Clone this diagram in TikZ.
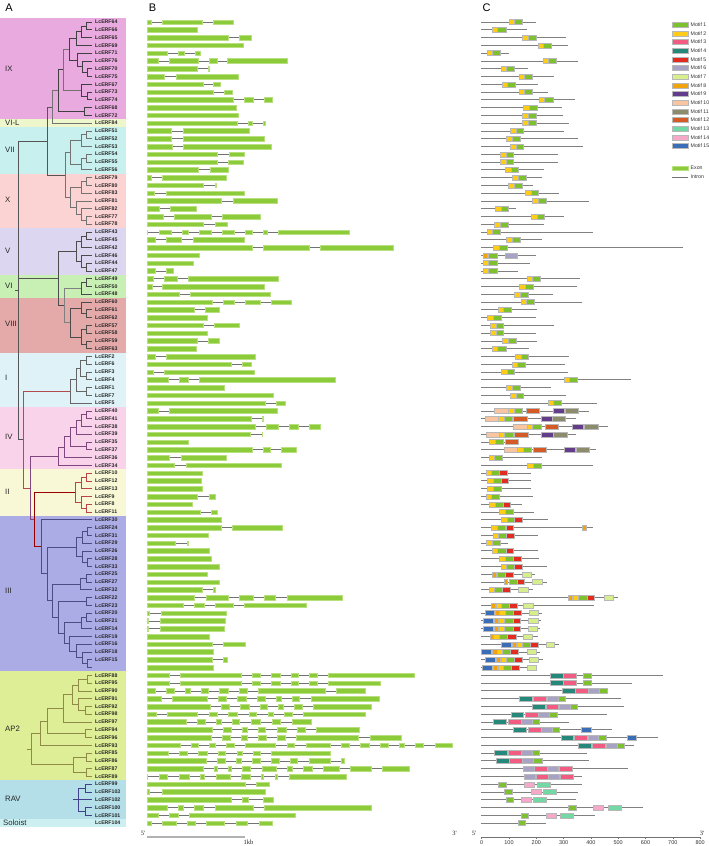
\documentclass[tikz,border=0pt]{standalone}
\usepackage{fontspec}
\setmainfont{Liberation Sans}
\newfontfamily\serf{Liberation Serif}
\definecolor{bIX}{HTML}{E9ABDF}\definecolor{bVIL}{HTML}{EEF6CC}\definecolor{bVII}{HTML}{C8F0EE}
\definecolor{bX}{HTML}{FCD3D3}\definecolor{bV}{HTML}{DCD6F0}\definecolor{bVI}{HTML}{C8EFB4}
\definecolor{bVIII}{HTML}{E4AAAA}\definecolor{bI}{HTML}{DEF2F8}\definecolor{bIV}{HTML}{F9D3EA}
\definecolor{bII}{HTML}{F8F8D6}\definecolor{bIII}{HTML}{ABABE6}\definecolor{bAP}{HTML}{DDEE96}
\definecolor{bRAV}{HTML}{B4DFE8}\definecolor{bSol}{HTML}{CCF0F2}
\definecolor{mA}{HTML}{7DC22E}\definecolor{mB}{HTML}{FFCC1A}\definecolor{mC}{HTML}{F25C82}
\definecolor{mD}{HTML}{24887A}\definecolor{mE}{HTML}{E32B22}\definecolor{mF}{HTML}{A8A2C4}
\definecolor{mG}{HTML}{D6EE8C}\definecolor{mH}{HTML}{F0A30A}\definecolor{mI}{HTML}{633C8C}
\definecolor{mJ}{HTML}{F9C4A0}\definecolor{mK}{HTML}{8C8C6C}\definecolor{mL}{HTML}{D65A24}
\definecolor{mM}{HTML}{72D8A4}\definecolor{mN}{HTML}{F5A8C8}\definecolor{mO}{HTML}{3A6FB8}
\definecolor{exf}{HTML}{8CCB3A}\definecolor{exb}{HTML}{B8E07E}\definecolor{mbord}{HTML}{B8B8B8}
\definecolor{treeg}{HTML}{555555}
\newcommand\br[6][treeg]{\draw[tl,draw=#1] (#2,{ry(#3)}) -| (#4,{ry(#5)}) -- (#6,{ry(#5)});}
\newcommand\band[3]{\fill[#1] (0,{ry(#2-0.5)}) rectangle (126,{ry(#3+0.5)});}
\newcommand\gB[3]{\draw[intr] ({140+20/3},{ry(#1)}) -- ({140+#2/3},{ry(#1)});
  \foreach \pa/\pb in {#3}{\filldraw[fill=exf,draw=exb,line width=0.3pt] ({140+\pa/3},{ry(#1)-2.3}) rectangle ({140+\pb/3},{ry(#1)+2.3});}}
\newcommand\gC[3]{\draw[prot] (481,{ry(#1)}) -- ({470+#2/3},{ry(#1)});
  \foreach \pa/\pb/\pc in {#3}{\filldraw[fill=\pc,draw=mbord,line width=0.3pt] ({470+\pa/3},{ry(#1)-2.5}) rectangle ({470+\pb/3},{ry(#1)+2.5});}}
\begin{document}
\begin{tikzpicture}[x=1pt,y=-1pt,
  declare function={ry(\i)=22+7.777*\i;},
  tl/.style={line width=0.6pt},
  intr/.style={draw=black!55,line width=0.6pt},
  prot/.style={draw=black!50,line width=0.7pt},
  gl/.style={anchor=west,inner sep=0pt,font=\fontsize{5.2}{6}\selectfont\bfseries,text=black!85},
  grl/.style={anchor=west,inner sep=0pt,font=\fontsize{7.8}{9}\selectfont,text=black!85},
  hd/.style={inner sep=0pt,font=\fontsize{11}{13}\selectfont},
  leg/.style={anchor=west,inner sep=0pt,font=\fontsize{5.2}{6}\selectfont,text=black!80},
  axl/.style={inner sep=0pt,font=\fontsize{5.5}{6}\selectfont,text=black!80},
  sl/.style={inner sep=0pt,font=\serf\fontsize{6.5}{7}\selectfont,text=black!85}]
\useasboundingbox (0,0) rectangle (709,846);
\fill[white] (0,0) rectangle (709,846);
% ---------- panel A bands
\band{bIX}{0}{12}\band{bVIL}{13}{13}\band{bVII}{14}{19}\band{bX}{20}{26}
\band{bV}{27}{32}\band{bVI}{33}{35}\band{bVIII}{36}{42}\band{bI}{43}{49}
\band{bIV}{50}{57}\band{bII}{58}{63}\band{bIII}{64}{83}\band{bAP}{84}{97}
\band{bRAV}{98}{102}\band{bSol}{103}{103}
\node[hd] (hA) at (9,8) {A};
\node[hd] (hB) at (152.5,7.5) {B};
\node[hd] (hC) at (486.5,7.5) {C};
\node[grl] (cIX) at (5,69) {IX};
\node[grl] (cVIL) at (5,{ry(13)}) {VI-L};
\node[grl] (cVII) at (5,150) {VII};
\node[grl] (cX) at (5,200) {X};
\node[grl] (cV) at (5,251) {V};
\node[grl] (cVI) at (5,286) {VI};
\node[grl] (cVIII) at (5,324) {VIII};
\node[grl] (cI) at (5,378) {I};
\node[grl] (cIV) at (5,437) {IV};
\node[grl] (cII) at (5,492) {II};
\node[grl] (cIII) at (5,591) {III};
\node[grl] (cAP) at (5,729) {AP2};
\node[grl] (cRAV) at (5,799) {RAV};
\node[grl] (cSol) at (3,{ry(103)}) {Soloist};
% gene labels
\foreach \n [count=\i from 0] in {64,66,65,69,71,76,70,75,67,73,74,68,72,84,51,52,53,54,55,56,79,80,83,81,82,77,78,43,45,42,46,44,47,49,50,48,60,61,62,57,58,59,63,2,6,3,4,1,7,5,40,41,38,39,35,37,36,34,10,12,13,9,8,11,30,24,31,29,26,28,33,25,27,32,22,23,20,21,14,19,16,18,15}
  {\node[gl] (g\n) at (95,{ry(\i)}) {LcERF\n};}
\foreach \n [count=\i from 84] in {88,95,90,91,92,98,97,94,96,93,85,86,87,89,99,103,102,100,101,104}
  {\node[gl] (g\n) at (95,{ry(\i)}) {LcERF\n};}
% ---------- tree
\def\cA{black!75}
\br[\cA]{92}{0}{86}{1}{92}\br[\cA]{86}{0.5}{81}{2}{92}\br[\cA]{81}{1.25}{76}{3}{92}
\br[\cA]{92}{6}{87}{7}{92}\br[\cA]{92}{5}{82}{6.5}{87}\br[\cA]{92}{4}{77}{5.75}{82}
\br[\cA]{76}{2.125}{69}{4.875}{77}\br[\cA]{92}{9}{87}{10}{92}\br[\cA]{92}{8}{81}{9.5}{87}
\br[black!55]{69}{3.5}{63}{8.75}{81}\br[\cA]{92}{11}{84}{12}{92}\br[\cA]{63}{6.125}{58}{11.5}{84}
\br[black!55]{58}{8.8125}{52}{13}{92}
\def\cB{black!55}
\br[\cB]{92}{14}{86}{15}{92}\br[\cB]{86}{14.5}{81}{16}{92}\br[\cB]{92}{17}{86}{18}{92}
\br[\cB]{86}{17.5}{81}{19}{92}\br[\cB]{81}{15.25}{70}{18.25}{81}
\br[\cB]{92}{20}{86}{21}{92}\br[\cB]{86}{20.5}{81}{22}{92}\br[\cB]{92}{25}{86}{26}{92}
\br[\cB]{92}{24}{81}{25.5}{86}\br[\cB]{92}{23}{76}{24.75}{81}\br[\cB]{81}{21.25}{70}{23.875}{76}
\br[\cB]{70}{16.75}{65}{22.5625}{70}\br[treeg]{52}{10.906}{47}{19.656}{65}
\def\cC{black!70}
\br[\cC]{92}{27}{86}{28}{92}\br[\cC]{86}{27.5}{81}{29}{92}\br[\cC]{92}{31}{86}{32}{92}
\br[\cC]{92}{30}{81}{31.5}{86}\br[\cC]{81}{28.25}{76}{30.75}{81}
\br[\cC]{92}{33}{86}{34}{92}\br[\cC]{86}{33.5}{81}{35}{92}
\br[\cC]{92}{37}{86}{38}{92}\br[\cC]{92}{36}{81}{37.5}{86}\br[\cC]{92}{39}{86}{40}{92}
\br[\cC]{92}{41}{86}{42}{92}\br[\cC]{86}{39.5}{81}{41.5}{86}\br[\cC]{81}{36.75}{70}{40.5}{81}
\br[black!50]{81}{34.25}{64}{38.625}{70}\br[\cC]{76}{29.5}{58}{36.4375}{64}
\def\cD{black!60}
\br[\cD]{92}{43}{86}{44}{92}\br[\cD]{92}{45}{86}{46}{92}\br[\cD]{86}{43.5}{80}{45.5}{86}
\br[\cD]{92}{47}{86}{48}{92}\br[\cD]{80}{44.5}{76}{47.5}{86}\br[\cD]{76}{46}{70}{49}{92}
\def\cE{violet!45!gray}
\br[\cE]{92}{50}{86}{51}{92}\br[\cE]{86}{50.5}{81}{52}{92}\br[\cE]{81}{51.25}{76}{53}{92}
\br[\cE]{92}{54}{86}{55}{92}\br[\cE]{76}{52.125}{70}{54.5}{86}\br[\cE]{70}{53.3125}{64}{56}{92}
\br[\cE]{64}{54.656}{58}{57}{92}
\def\cF{red!45!gray}
\br[\cF]{92}{58}{86}{59}{92}\br[\cF]{86}{58.5}{81}{60}{92}\br[\cF]{92}{62}{86}{63}{92}
\br[\cF]{92}{61}{81}{62.5}{86}\br[\cF]{81}{59.25}{75}{61.75}{81}
\def\cG{blue!30!black!70}
\br[\cG]{92}{65}{87}{66}{92}\br[\cG]{87}{65.5}{82}{67}{92}\br[\cG]{92}{69}{87}{70}{92}
\br[\cG]{92}{68}{82}{69.5}{87}\br[\cG]{82}{66.25}{76}{68.75}{82}
\br[\cG]{92}{71}{86}{72}{92}\br[\cG]{86}{71.5}{80}{73}{92}\br[\cG]{92}{74}{86}{75}{92}
\br[\cG]{92}{76}{86}{77}{92}\br[\cG]{86}{76.5}{81}{78}{92}\br[\cG]{92}{82}{87}{83}{92}
\br[\cG]{92}{81}{82}{82.5}{87}\br[\cG]{92}{80}{76}{81.75}{82}\br[\cG]{92}{79}{69}{80.875}{76}
\br[\cG]{81}{77.25}{64}{79.94}{69}\br[\cG]{86}{74.5}{58}{78.594}{64}\br[\cG]{80}{72.25}{52}{76.547}{58}
\br[\cG]{76}{67.5}{47}{74.398}{52}\br[\cG]{92}{64}{41}{70.949}{47}
\br[red!60!black]{75}{60.5}{34}{67.47}{41}
\br[\cE]{58}{55.828}{30}{63.99}{34}
\br[red!40!gray]{70}{47.5}{23}{59.91}{30}
\draw[tl,draw=treeg] (47,{ry(15.281)}) -| (18,{ry(53.7)}) -- (23,{ry(53.7)});
\draw[tl,draw=treeg] (58,{ry(32.969)}) -- (18,{ry(32.969)});
\draw[tl,draw=treeg] (15,{ry(34.49)}) -- (18,{ry(34.49)});
\def\cH{olive!50!gray}
\br[\cH]{92}{84}{87}{85}{92}\br[\cH]{87}{84.5}{78}{86}{92}\br[\cH]{92}{88}{85}{89}{92}
\br[\cH]{92}{87}{78}{88.5}{85}\br[\cH]{78}{85.25}{72}{87.75}{78}\br[\cH]{72}{86.5}{63}{90}{92}
\br[\cH]{92}{91}{85}{92}{92}\br[\cH]{63}{88.25}{47}{91.5}{85}\br[\cH]{47}{89.875}{40}{93}{92}
\br[\cH]{92}{94}{86}{95}{92}\br[\cH]{92}{96}{86}{97}{92}\br[\cH]{86}{94.5}{73}{96.5}{86}
\br[\cH]{40}{91.44}{31}{95.5}{73}
\draw[tl,draw=\cH] (27,{ry(93.47)}) -- (31,{ry(93.47)});
\def\cI{blue!40!black!75}
\br[\cI]{92}{98}{85}{99}{92}\br[\cI]{92}{101}{85}{102}{92}\br[\cI]{85}{98.5}{78}{101.5}{85}
\draw[tl,draw=\cI] (73,{ry(100)}) -- (92,{ry(100)});
% ---------- panel B
\gB{0}{279}{20/32,65/187,220/279}
\gB{1}{172}{20/172}
\gB{2}{333}{20/265,298/333}
\gB{3}{308}{20/308}
\gB{4}{180}{20/80,115/133,166/180}
\gB{5}{440}{20/53,88/175,207/230,262/440}
\gB{6}{208}{20/172,205/208}
\gB{7}{295}{20/73,107/295}
\gB{8}{240}{20/188,220/240}
\gB{9}{275}{20/219,252/275}
\gB{10}{397}{20/280,313/340,373/397}
\gB{11}{287}{20/287}
\gB{12}{293}{20/293}
\gB{13}{376}{20/291,325/335,369/376}
\gB{14}{328}{20/93,128/328}
\gB{15}{373}{20/93,128/373}
\gB{16}{393}{20/95,128/393}
\gB{17}{311}{20/232,267/311}
\gB{18}{309}{20/230,265/309}
\gB{19}{263}{20/175,210/263}
\gB{20}{257}{20/33,67/257}
\gB{21}{229}{20/190,226/229}
\gB{22}{312}{20/43,77/312}
\gB{23}{410}{20/243,278/410}
\gB{24}{167}{20/57,90/167}
\gB{25}{360}{20/68,102/212,246/360}
\gB{26}{262}{20/190,225/262}
\gB{27}{627}{20/22,58/92,125/143,177/213,247/282,316/335,370/380,415/627}
\gB{28}{312}{20/45,78/123,158/312}
\gB{29}{758}{20/335,369/507,540/758}
\gB{30}{178}{20/178}
\gB{31}{158}{20/158}
\gB{32}{100}{20/45,78/100}
\gB{33}{413}{20/38,72/110,143/413}
\gB{34}{372}{20/35,67/372}
\gB{35}{389}{20/117,150/389}
\gB{36}{452}{20/215,249/283,316/359,392/452}
\gB{37}{236}{20/161,195/236}
\gB{38}{201}{20/201}
\gB{39}{296}{20/189,223/296}
\gB{40}{200}{20/200}
\gB{41}{236}{20/170,204/236}
\gB{42}{168}{20/168}
\gB{43}{344}{20/45,78/344}
\gB{44}{333}{20/273,306/333}
\gB{45}{342}{20/40,73/342}
\gB{46}{584}{20/83,117/143,176/584}
\gB{47}{252}{20/252}
\gB{48}{399}{20/399}
\gB{49}{436}{20/375,408/436}
\gB{50}{411}{20/53,88/411}
\gB{51}{369}{20/332,367/369}
\gB{52}{540}{20/344,377/413,447/473,507/540}
\gB{53}{367}{20/329,365/367}
\gB{54}{145}{20/145}
\gB{55}{467}{20/335,369/391,424/467}
\gB{56}{257}{20/87,122/257}
\gB{57}{423}{20/103,137/423}
\gB{58}{186}{20/186}
\gB{59}{183}{20/183}
\gB{60}{185}{20/185}
\gB{61}{224}{20/172,206/224}
\gB{62}{155}{20/155}
\gB{63}{230}{20/180,213/230}
\gB{64}{242}{20/242}
\gB{65}{426}{20/243,276/426}
\gB{66}{205}{20/205}
\gB{67}{143}{20/104,141/143}
\gB{68}{206}{20/206}
\gB{69}{212}{20/212}
\gB{70}{236}{20/236}
\gB{71}{200}{20/200}
\gB{72}{238}{20/238}
\gB{73}{224}{20/185,218/224}
\gB{74}{606}{20/162,197/263,297/338,372/406,440/606}
\gB{75}{497}{20/130,163/192,226/279,312/497}
\gB{76}{257}{20/28,63/257}
\gB{77}{255}{20/25,60/255}
\gB{78}{253}{20/25,60/253}
\gB{79}{207}{20/207}
\gB{80}{316}{20/215,249/316}
\gB{81}{218}{20/218}
\gB{82}{262}{20/215,249/262}
\gB{83}{218}{20/218}
\gB{84}{822}{20/87,120/302,336/359,393/419,453/473,507/531,564/822}
\gB{85}{719}{20/87,120/302,336/359,393/419,453/473,507/531,564/719}
\gB{86}{674}{20/45,78/101,134/150,183/204,237/263,297/321,354/555,589/674}
\gB{87}{717}{20/62,95/201,234/258,292/319,352/374,408/422,456/478,512/717}
\gB{88}{693}{20/209,242/267,300/326,360/381,414/429,462/486,519/693}
\gB{89}{674}{20/48,82/172,206/231,265/291,326/349,383/398,432/457,490/674}
\gB{90}{514}{20/138,172/194,229/243,277/298,333/360,395/420,455/514}
\gB{91}{658}{20/215,249/272,305/321,354/376,410/437,471/494,529/658}
\gB{92}{784}{20/212,246/270,304/320,354/377,410/434,468/655,689/784}
\gB{93}{935}{20/120,153/175,208/224,257/282,316/406,440/462,497/570,603/627,661/687,721/743,777/791,825/850,884/935}
\gB{94}{570}{20/85,118/142,175/201,235/256,290/306,340/360,394/570}
\gB{95}{611}{20/197,230/256,289/303,337/359,392/416,450/471,508/570,604/611}
\gB{96}{806}{20/189,222/231,264/273,306/331,366/407,441/455,488/515,549/597,630/693,726/806}
\gB{97}{618}{20/22,58/82,118/147,181/193,228/270,303/329,363/370,405/412,447/618}
\gB{98}{387}{20/315,348/387}
\gB{99}{375}{20/27,65/375}
\gB{100}{400}{20/272,305/323,370/400}
\gB{101}{692}{20/80,115/128,163/190,225/340,373/692}
\gB{102}{466}{20/54,88/115,148/466}
\gB{103}{396}{20/33,67/107,142/166,199/252,287/322,356/396}
\draw[draw=black!30,line width=1.4pt] (147,837) coordinate (kb0) -- (245,837) coordinate (kb1);
\node[sl] (b5) at (143,833) {5'};
\node[sl] (b3) at (454.5,833) {3'};
\node[sl] (kb) at (248.5,842.5) {1kb};
% ---------- panel C
\gC{0}{197}{117/133/mB,133/157/mA}
\gC{1}{170}{67/82/mB,82/107/mA}
\gC{2}{287}{157/173/mB,173/197/mA}
\gC{3}{293}{203/220/mB,220/243/mA}
\gC{4}{118}{50/65/mB,65/90/mA}
\gC{5}{323}{218/235/mB,235/258/mA}
\gC{6}{173}{92/107/mB,107/132/mA}
\gC{7}{251}{147/163/mB,163/187/mA}
\gC{8}{203}{95/110/mB,110/135/mA}
\gC{9}{233}{147/162/mB,162/187/mA}
\gC{10}{315}{207/223/mB,223/248/mA}
\gC{11}{275}{160/177/mB,177/200/mA}
\gC{12}{280}{157/173/mB,173/197/mA}
\gC{13}{296}{157/173/mB,173/197/mA}
\gC{14}{282}{120/137/mB,137/160/mA}
\gC{15}{323}{108/125/mB,125/150/mA}
\gC{16}{340}{120/137/mB,137/160/mA}
\gC{17}{265}{90/107/mB,107/130/mA}
\gC{18}{265}{90/107/mB,107/130/mA}
\gC{19}{222}{105/122/mB,122/145/mA}
\gC{20}{217}{127/143/mB,143/167/mA}
\gC{21}{190}{115/132/mB,132/155/mA}
\gC{22}{268}{165/182/mB,182/205/mA}
\gC{23}{357}{187/203/mB,203/227/mA}
\gC{24}{137}{75/92/mB,92/115/mA}
\gC{25}{282}{183/200/mB,200/223/mA}
\gC{26}{222}{73/90/mB,90/115/mA}
\gC{27}{370}{50/67/mB,67/90/mA}
\gC{28}{215}{108/125/mB,125/150/mA}
\gC{29}{640}{70/87/mB,87/110/mA}
\gC{30}{198}{40/52/mH,55/80/mA,105/140/mF}
\gC{31}{180}{38/55/mB,55/80/mA}
\gC{32}{143}{38/55/mB,55/80/mA}
\gC{33}{330}{170/187/mB,187/210/mA}
\gC{34}{322}{148/165/mB,165/190/mA}
\gC{35}{248}{133/150/mB,150/173/mA}
\gC{36}{335}{152/168/mB,168/193/mA}
\gC{37}{200}{83/100/mB,100/123/mA}
\gC{38}{198}{52/68/mB,68/92/mA}
\gC{39}{252}{60/77/mB,77/100/mA}
\gC{40}{197}{60/77/mB,77/100/mA}
\gC{41}{200}{97/113/mB,113/137/mA}
\gC{42}{178}{65/82/mB,82/107/mA}
\gC{43}{297}{135/152/mB,152/175/mA}
\gC{44}{285}{125/140/mB,140/165/mA}
\gC{45}{293}{93/110/mB,110/133/mA}
\gC{46}{482}{282/298/mB,298/322/mA}
\gC{47}{242}{108/125/mB,125/150/mA}
\gC{48}{287}{120/137/mB,137/160/mA}
\gC{49}{380}{233/250/mB,250/273/mA}
\gC{50}{357}{73/115/mJ,115/132/mB,132/155/mA,167/207/mL,248/282/mI,285/325/mK}
\gC{51}{318}{45/85/mJ,85/102/mB,102/127/mA,130/170/mL,212/245/mI,245/285/mK}
\gC{52}{413}{130/170/mJ,170/187/mB,187/212/mA,225/263/mL,305/340/mI,343/383/mK}
\gC{53}{318}{47/87/mJ,87/103/mB,103/128/mA,133/173/mL,213/248/mI,250/290/mK}
\gC{54}{145}{58/75/mB,75/100/mA,104/143/mL}
\gC{55}{377}{103/142/mJ,142/158/mB,158/183/mA,190/228/mL,282/316/mI,318/357/mK}
\gC{56}{217}{57/73/mB,73/97/mA}
\gC{57}{368}{172/188/mB,188/213/mA}
\gC{58}{183}{47/63/mB,63/87/mA,87/110/mE}
\gC{59}{183}{52/68/mB,68/92/mA,92/115/mE}
\gC{60}{183}{52/68/mB,68/92/mA}
\gC{61}{188}{47/63/mB,63/87/mA}
\gC{62}{155}{58/75/mB,75/98/mA,98/121/mE}
\gC{63}{193}{88/105/mB,105/128/mA}
\gC{64}{235}{92/110/mB,110/133/mA,133/157/mE}
\gC{65}{370}{63/80/mB,80/105/mA,108/130/mE,337/347/mH}
\gC{66}{203}{68/85/mB,85/108/mA,108/132/mE}
\gC{67}{113}{48/65/mB,65/90/mA}
\gC{68}{203}{65/82/mB,82/107/mA,107/130/mE}
\gC{69}{208}{88/105/mB,105/130/mA,130/153/mE}
\gC{70}{230}{92/108/mB,108/133/mA,133/157/mE}
\gC{71}{195}{67/77/mH,82/105/mA,105/128/mE,155/182/mG}
\gC{72}{230}{102/112/mH,117/140/mA,140/163/mE,187/215/mG}
\gC{73}{188}{57/73/mB,73/97/mA,97/120/mE,145/173/mG}
\gC{74}{443}{295/305/mH,308/325/mB,325/350/mA,350/373/mE,403/430/mG}
\gC{75}{373}{63/75/mH,77/93/mB,93/118/mA,118/142/mE,160/188/mG}
\gC{76}{215}{45/72/mO,75/87/mH,88/105/mB,105/130/mA,130/153/mE,177/203/mG}
\gC{77}{213}{40/68/mO,73/85/mH,87/103/mB,103/128/mA,128/150/mE,175/203/mG}
\gC{78}{210}{38/68/mO,73/85/mH,87/103/mB,103/128/mA,128/150/mE,173/200/mG}
\gC{79}{205}{60/70/mH,70/87/mB,87/112/mA,112/137/mE,158/185/mG}
\gC{80}{268}{93/123/mO,125/137/mH,140/157/mB,157/180/mA,180/203/mE,227/253/mG}
\gC{81}{210}{33/62/mO,67/80/mH,82/97/mB,97/120/mA,120/143/mE,170/197/mG}
\gC{82}{220}{45/75/mO,78/90/mH,92/108/mB,108/132/mA,132/155/mE,178/205/mG}
\gC{83}{197}{37/67/mO,70/82/mH,83/100/mB,100/123/mA,123/147/mE,170/197/mG}
\gC{84}{578}{240/280/mD,280/318/mC,340/362/mA}
\gC{85}{485}{240/280/mD,280/318/mC,340/362/mA}
\gC{86}{412}{275/315/mD,315/355/mC,355/388/mF,388/410/mA}
\gC{87}{453}{148/187/mD,190/228/mC,230/263/mF,263/285/mA}
\gC{88}{463}{187/225/mD,227/265/mC,267/300/mF,300/322/mA}
\gC{89}{410}{122/160/mD,165/203/mC,205/238/mF,238/260/mA}
\gC{90}{297}{70/108/mD,113/152/mC,152/185/mF,185/207/mA}
\gC{91}{427}{130/168/mD,173/212/mC,213/245/mF,245/268/mA,332/362/mO}
\gC{92}{565}{272/310/mD,312/352/mC,353/385/mF,385/407/mA,470/498/mO}
\gC{93}{492}{323/362/mD,366/405/mC,407/440/mF,440/463/mA}
\gC{94}{350}{73/112/mD,113/152/mC,153/187/mF,187/208/mA}
\gC{95}{358}{78/117/mD,118/157/mC,157/190/mF,190/215/mA}
\gC{96}{475}{158/192/mF,193/232/mC,232/265/mF,268/305/mC}
\gC{97}{335}{162/195/mF,197/235/mC,235/268/mF,270/310/mC}
\gC{98}{335}{85/107/mA,163/193/mN,200/240/mM}
\gC{99}{323}{103/125/mA,183/213/mN,220/258/mM}
\gC{100}{318}{107/130/mA,152/182/mN,188/228/mM}
\gC{101}{518}{295/318/mA,370/400/mN,415/453/mM}
\gC{102}{375}{152/175/mA,228/258/mN,270/310/mM}
\gC{103}{228}{143/165/mA}
% axis
\draw[draw=black!55,line width=0.5pt] (481.7,837) coordinate (ax0) -- (700.1,837) coordinate (ax1);
\foreach \k in {0,...,8}{
  \draw[draw=black!55,line width=0.5pt] ({481.7+27.3*\k},837) -- ++(0,1.5);
  \pgfmathtruncatemacro\lab{100*\k}
  \node[axl] (axl\k) at ({481.7+27.3*\k},843) {\lab};}
\node[sl] (c5) at (474,833) {5'};
\node[sl] (c3) at (702,833) {3'};
% legend
\foreach \k/\cc in {1/mA,2/mB,3/mC,4/mD,5/mE,6/mF,7/mG,8/mH,9/mI,10/mJ,11/mK,12/mL,13/mM,14/mN,15/mO}{
  \filldraw[fill=\cc,draw=mbord,line width=0.3pt] (672.3,{24.8+8.65*(\k-1)-2.5}) rectangle ++(15.4,5);
  \node[leg] (lm\k) at (690.5,{24.8+8.65*(\k-1)}) {Motif \k};}
\filldraw[fill=exf,draw=exb,line width=0.3pt] (672.3,165.7) rectangle ++(15.4,4.6);
\node[leg] (lex) at (690.5,168) {Exon};
\draw[intr] (672.3,177) coordinate (lin0) -- (687.7,177) coordinate (lin1);
\node[leg] (lin) at (690.5,177) {Intron};
\end{tikzpicture}
\end{document}
